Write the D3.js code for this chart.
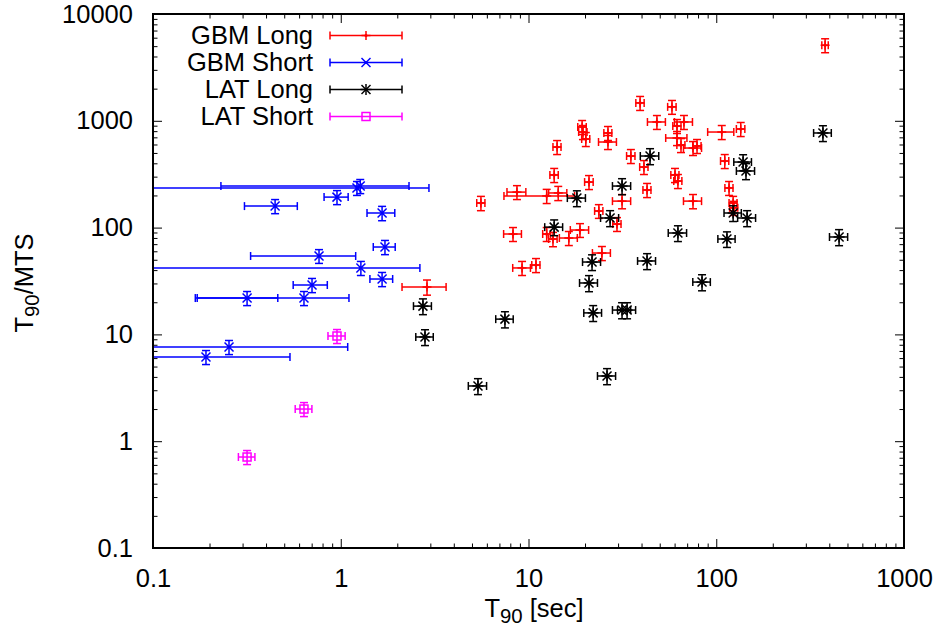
<!DOCTYPE html>
<html>
<head>
<meta charset="utf-8">
<script src="https://cdn.jsdelivr.net/npm/d3@7"></script>
<style>
  html, body { margin: 0; padding: 0; background: #fff; }
  text { font-family: "Liberation Sans", Arial, Helvetica, sans-serif; }
</style>
</head>
<body>
<svg id="chart" width="946" height="637"></svg>
<script>
// Rows: [T90 (s), T90 error (s), T90/MTS, T90/MTS error]
const gbmLong = [
  [380, 15, 5100, 760], [39.3, 2, 1470, 220], [58.1, 3, 1350, 200], [48.3, 5.3, 975, 145],
  [61.8, 3.1, 894, 134], [67.3, 7.4, 975, 146], [61.8, 8, 690, 104], [64.9, 3.2, 593, 89],
  [75.2, 8.3, 556, 83], [79.0, 4, 581, 87], [107, 17, 785, 118], [135, 7, 838, 126],
  [111, 5.6, 420, 63], [60.3, 3, 311, 47], [62.5, 3.1, 273, 41], [75.2, 8.3, 177, 27],
  [117, 5.8, 235, 35], [123, 6, 170, 26], [124, 6.2, 153, 23], [19.3, 1, 875, 131],
  [19.5, 1, 785, 118], [20.2, 1, 675, 101], [26.5, 1.3, 769, 115], [26.5, 2.9, 633, 95],
  [14.2, 0.7, 568, 85], [35.1, 1.8, 468, 70], [41.2, 2.1, 369, 55], [13.7, 0.7, 311, 47],
  [21.0, 1.1, 267, 40], [42.8, 2.1, 225, 34], [8.68, 1.0, 215, 32], [12.5, 5.1, 198, 30],
  [14.4, 1.6, 211, 32], [31.5, 3.5, 177, 27], [5.58, 0.28, 170, 26], [23.7, 1.2, 143, 21],
  [29.6, 1.5, 108, 16], [8.27, 0.9, 87.1, 13], [12.5, 0.6, 87.1, 13], [13.5, 0.7, 78.2, 12],
  [18.8, 2.1, 94.9, 14], [16.4, 1.8, 79.9, 12], [24.6, 2.7, 57.8, 8.7], [9.24, 1.0, 41.9, 6.3],
  [10.96, 0.55, 44.6, 6.7], [2.88, 0.76, 27.8, 4.5]
];
const gbmShort = [
  [1.22, 1.73, 235, 35], [1.27, 1.04, 245, 37], [0.955, 0.14, 193, 29], [0.447, 0.14, 159, 24],
  [1.66, 0.28, 137, 21], [1.72, 0.23, 65.8, 10], [0.766, 0.435, 54.2, 8], [1.28, 1.36, 41.9, 6.3],
  [1.66, 0.23, 33.0, 5], [0.703, 0.145, 29.0, 4.4], [0.317, 0.145, 21.9, 3.3], [0.637, 0.469, 21.9, 3.3],
  [0.254, 0.835, 7.62, 1.15], [0.1915, 0.345, 6.14, 0.92]
];
const latLong = [
  [370, 40, 769, 130], [139, 15, 411, 70], [144, 16, 339, 58], [123, 13, 137, 23],
  [146, 16, 123, 21], [62.5, 7, 89, 15], [114, 12, 78.2, 13], [451, 50, 81.7, 14],
  [44.4, 5, 468, 80], [31.5, 3.5, 245, 42], [18.1, 2, 189, 32], [27.2, 3, 123, 21],
  [13.7, 1.5, 101, 17], [21.8, 2.4, 47.6, 8], [42.8, 4.7, 48.7, 8.3], [21.0, 2.3, 30.3, 5.2],
  [84.0, 9, 30.9, 5.3], [2.74, 0.3, 18.4, 3.1], [7.49, 0.8, 13.9, 2.4], [22.1, 2.4, 15.9, 2.7],
  [31.5, 3.5, 16.9, 2.9], [33.5, 3.7, 16.9, 2.9], [2.81, 0.3, 9.46, 1.6], [26.2, 2.9, 4.08, 0.7],
  [5.38, 0.6, 3.29, 0.56]
];
const latShort = [
  [0.955, 0.1, 9.66, 1.45], [0.637, 0.065, 2.0, 0.3], [0.317, 0.032, 0.711, 0.107]
];

const seriesNames = ["GBM Long", "GBM Short", "LAT Long", "LAT Short"];
const seriesColors = ["#ff0000", "#0000ff", "#000000", "#ff00ff"];
const seriesSymbols = ["plus", "cross", "star", "square"];

const xTicks = [0.1, 1, 10, 100, 1000];
const xTickLabels = ["0.1", "1", "10", "100", "1000"];
const yTicks = [0.1, 1, 10, 100, 1000, 10000];
const yTickLabels = ["0.1", "1", "10", "100", "1000", "10000"];

const plot = { left: 153, right: 904, top: 14, bottom: 548 };
const svg = d3.select("#chart");

const x = d3.scaleLog().domain([0.1, 1000]).range([plot.left, plot.right]);
const y = d3.scaleLog().domain([0.1, 10000]).range([plot.bottom, plot.top]);

function minorTicks(domain) {
  const out = [];
  for (let d = domain[0]; d < domain[1]; d *= 10)
    for (let k = 2; k <= 9; k++) out.push(+(d * k).toPrecision(3));
  return out;
}
const xMinor = minorTicks(x.domain());
const yMinor = minorTicks(y.domain());

const FONT = 25.5;

// Axes: major and minor ticks point inward, mirrored on top and right.
function drawAxis(axisFn, scale, values, size, fmt, transform, padding) {
  const a = axisFn(scale).tickValues(values).tickSizeInner(-size).tickSizeOuter(0)
    .tickPadding(padding || 0).tickFormat(fmt);
  const g = svg.append("g").attr("transform", transform).call(a);
  g.select(".domain").remove();
  g.selectAll(".tick line").attr("stroke", "#000").attr("stroke-width", 1);
  g.selectAll("text").attr("font-size", FONT).attr("fill", "#000");
  return g;
}
const none = () => "";
drawAxis(d3.axisBottom, x, xTicks, 9, (d, i) => xTickLabels[i], `translate(0,${plot.bottom})`, 21);
drawAxis(d3.axisBottom, x, xMinor, 4.5, none, `translate(0,${plot.bottom})`);
drawAxis(d3.axisTop, x, xTicks, 9, none, `translate(0,${plot.top})`);
drawAxis(d3.axisTop, x, xMinor, 4.5, none, `translate(0,${plot.top})`);
drawAxis(d3.axisLeft, y, yTicks, 9, (d, i) => yTickLabels[i], `translate(${plot.left},0)`, 20);
drawAxis(d3.axisLeft, y, yMinor, 4.5, none, `translate(${plot.left},0)`);
drawAxis(d3.axisRight, y, yTicks, 9, none, `translate(${plot.right},0)`);
drawAxis(d3.axisRight, y, yMinor, 4.5, none, `translate(${plot.right},0)`);

// Clip for error bars reaching past the frame
svg.append("clipPath").attr("id", "plot-clip").append("rect")
  .attr("x", plot.left).attr("y", plot.top)
  .attr("width", plot.right - plot.left).attr("height", plot.bottom - plot.top);

const CAP = 4;
function symbol(g, kind, cx, cy, color) {
  const s = g.append("g").attr("stroke", color).attr("fill", "none").attr("stroke-width", 1.5);
  const line = (x1, y1, x2, y2) => s.append("line").attr("x1", x1).attr("y1", y1).attr("x2", x2).attr("y2", y2);
  if (kind === "plus" || kind === "star") {
    const r = kind === "plus" ? 4.5 : 5.5;
    line(cx - r, cy, cx + r, cy); line(cx, cy - r, cx, cy + r);
  }
  if (kind === "cross" || kind === "star") {
    const r = 4.5;
    line(cx - r, cy - r, cx + r, cy + r); line(cx - r, cy + r, cx + r, cy - r);
  }
  if (kind === "square") {
    s.append("rect").attr("x", cx - 4).attr("y", cy - 4).attr("width", 8).attr("height", 8);
  }
  if (kind !== "square") {
    s.append("circle").attr("cx", cx).attr("cy", cy).attr("r", 1.6).attr("fill", color).attr("stroke", "none");
  }
}

function drawSeries(rows, color, kind) {
  const g = svg.append("g").attr("clip-path", "url(#plot-clip)");
  rows.forEach(([t, dt, r, dr]) => {
    const cx = x(t), cy = y(r);
    const lo = t - dt, hi = t + dt;
    const x1 = lo > x.domain()[0] ? x(lo) : plot.left - 2;
    const x2 = hi < x.domain()[1] ? x(hi) : plot.right + 2;
    const y1 = y(r + dr), y2 = r - dr > 0 ? y(r - dr) : plot.bottom + 2;
    const b = g.append("g").attr("stroke", color).attr("stroke-width", 1.5);
    b.append("line").attr("x1", x1).attr("x2", x2).attr("y1", cy).attr("y2", cy);
    b.append("line").attr("x1", cx).attr("x2", cx).attr("y1", y1).attr("y2", y2);
    if (lo > x.domain()[0]) b.append("line").attr("x1", x1).attr("x2", x1).attr("y1", cy - CAP).attr("y2", cy + CAP);
    if (hi < x.domain()[1]) b.append("line").attr("x1", x2).attr("x2", x2).attr("y1", cy - CAP).attr("y2", cy + CAP);
    b.append("line").attr("x1", cx - CAP).attr("x2", cx + CAP).attr("y1", y1).attr("y2", y1);
    b.append("line").attr("x1", cx - CAP).attr("x2", cx + CAP).attr("y1", y2).attr("y2", y2);
    symbol(g, kind, cx, cy, color);
  });
}
drawSeries(gbmLong, seriesColors[0], seriesSymbols[0]);
drawSeries(gbmShort, seriesColors[1], seriesSymbols[1]);
drawSeries(latLong, seriesColors[2], seriesSymbols[2]);
drawSeries(latShort, seriesColors[3], seriesSymbols[3]);

// Frame
svg.append("rect").attr("x", plot.left).attr("y", plot.top)
  .attr("width", plot.right - plot.left).attr("height", plot.bottom - plot.top)
  .attr("fill", "none").attr("stroke", "#000").attr("stroke-width", 2);

// Legend
const legend = svg.append("g");
seriesNames.forEach((name, i) => {
  const ly = 35.5 + i * 27;
  legend.append("text").attr("x", 313).attr("y", ly).attr("dy", "0.35em")
    .attr("text-anchor", "end").attr("font-size", FONT).text(name);
  const c = seriesColors[i];
  const lg = legend.append("g").attr("stroke", c).attr("stroke-width", 1.5);
  lg.append("line").attr("x1", 330).attr("x2", 402).attr("y1", ly).attr("y2", ly);
  lg.append("line").attr("x1", 330).attr("x2", 330).attr("y1", ly - CAP).attr("y2", ly + CAP);
  lg.append("line").attr("x1", 402).attr("x2", 402).attr("y1", ly - CAP).attr("y2", ly + CAP);
  symbol(legend, seriesSymbols[i], 366, ly, c);
});

// Axis titles
const xt = svg.append("text").attr("x", 534).attr("y", 617).attr("text-anchor", "middle").attr("font-size", FONT);
xt.append("tspan").text("T");
xt.append("tspan").attr("font-size", FONT * 0.8).attr("dy", 6).text("90");
xt.append("tspan").attr("dy", -6).text(" [sec]");

const yt = svg.append("text").attr("transform", "translate(33,283) rotate(-90)")
  .attr("text-anchor", "middle").attr("font-size", FONT);
yt.append("tspan").text("T");
yt.append("tspan").attr("font-size", FONT * 0.8).attr("dy", 6).text("90");
yt.append("tspan").attr("dy", -6).text("/MTS");
</script>
</body>
</html>
